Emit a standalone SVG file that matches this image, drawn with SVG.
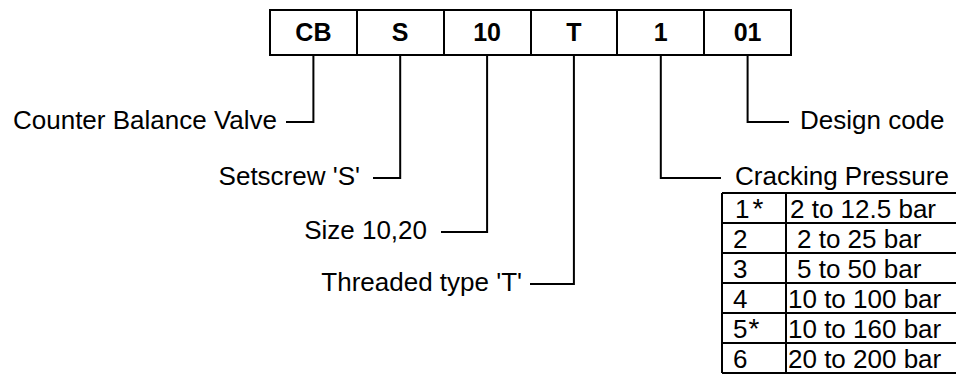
<svg xmlns="http://www.w3.org/2000/svg" width="956" height="376" viewBox="0 0 956 376">
<style>
.t{font-family:"Liberation Sans",Arial,sans-serif;font-size:26px;fill:#000}
.h{font-family:"Liberation Sans",Arial,sans-serif;font-size:25px;font-weight:bold;fill:#000;text-anchor:middle}
.ln{fill:none;stroke:#000;stroke-width:2}
.ast{font-size:28px}
</style>
<rect width="956" height="376" fill="#fff"/>
<g id="code">
<rect class="ln" x="270" y="10" width="521" height="45"/>
<path class="ln" d="M357 10V55M444 10V55M531 10V55M617 10V55M704 10V55"/>
<text class="h" x="313.4" y="41">CB</text>
<text class="h" x="400.2" y="41">S</text>
<text class="h" x="487.1" y="41">10</text>
<text class="h" x="573.9" y="41">T</text>
<text class="h" x="660.8" y="41">1</text>
<text class="h" x="747.6" y="41">01</text>
</g>
<g id="connectors">
<path class="ln" d="M313.4 55V122H286"/>
<path class="ln" d="M400.2 55V178H373"/>
<path class="ln" d="M487.1 55V232H441"/>
<path class="ln" d="M573.9 55V284H530"/>
<path class="ln" d="M660.8 55V178H721"/>
<path class="ln" d="M747.6 55V122H789"/>
</g>
<g id="label-cb"><text class="t" x="277" y="129" text-anchor="end">Counter Balance Valve</text></g>
<g id="label-s"><text class="t" x="360" y="185" text-anchor="end">Setscrew 'S'</text></g>
<g id="label-size"><text class="t" x="427" y="239" text-anchor="end">Size 10,20</text></g>
<g id="label-t"><text class="t" x="522" y="291" text-anchor="end">Threaded type 'T'</text></g>
<g id="label-design"><text class="t" x="800" y="129">Design code</text></g>
<g id="label-cracking">
<text class="t" x="735" y="185">Cracking Pressure</text>
<path class="ln" d="M722 193H956M722 223H956M722 253H956M722 283H956M722 313H956M722 343H956M722 373H956M722 193V373M786 193V373"/>
<text class="t" x="735" y="218">1<tspan class="ast" dx="3">*</tspan></text>
<text class="t" x="790" y="218">2 to 12.5 bar</text>
<text class="t" x="733" y="248">2</text>
<text class="t" x="797" y="248">2 to 25 bar</text>
<text class="t" x="733" y="278">3</text>
<text class="t" x="797" y="278">5 to 50 bar</text>
<text class="t" x="733" y="308">4</text>
<text class="t" x="788" y="308">10 to 100 bar</text>
<text class="t" x="733" y="338">5<tspan class="ast" dx="1">*</tspan></text>
<text class="t" x="788" y="338">10 to 160 bar</text>
<text class="t" x="733" y="368">6</text>
<text class="t" x="788" y="368">20 to 200 bar</text>
</g>
</svg>
